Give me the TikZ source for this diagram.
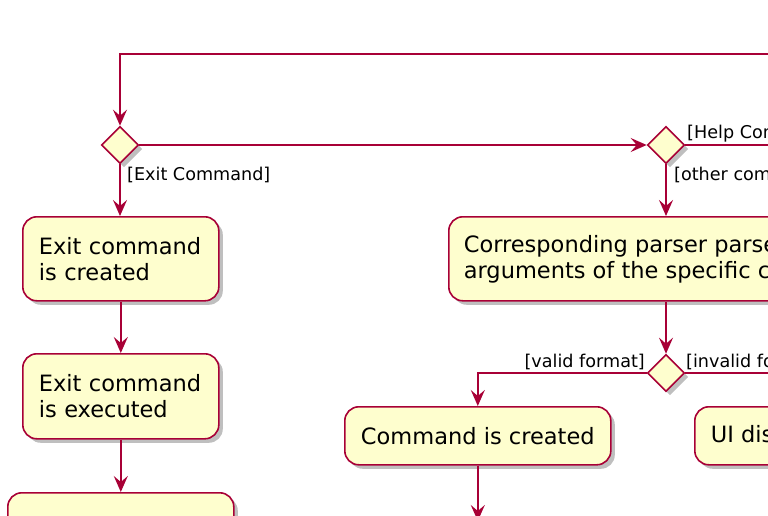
\documentclass[tikz,border=0pt]{standalone}
\usepackage{fontspec}
\setmainfont{DejaVu Sans}
\usetikzlibrary{shapes.geometric,shadows,arrows.meta}
\definecolor{pborder}{HTML}{A80036}
\definecolor{pfill}{HTML}{FEFECE}
\hyphenpenalty=10000
\exhyphenpenalty=10000
\begin{document}
\begin{tikzpicture}[x=1pt,y=-1pt,
  shad/.style={drop shadow={shadow xshift=4pt,shadow yshift=-4pt,opacity=0.25,fill=black}},
  act/.style={draw=pborder, fill=pfill, line width=1.6pt, rounded corners=14pt, shad,
    font=\fontsize{22.5}{26}\selectfont, inner xsep=16pt, inner ysep=0pt},
  dec/.style={diamond, draw=pborder, fill=pfill, line width=1.6pt, shad,
    minimum width=37pt, minimum height=37pt, inner sep=0pt},
  conn/.style={draw=pborder, line width=1.6pt},
  flow/.style={conn, -{Stealth[length=16pt,width=14pt,inset=6pt]}},
  lbl/.style={font=\fontsize{17.6}{20}\selectfont, inner sep=0pt}
]
\useasboundingbox (0,0) rectangle (768,516);
\clip (0,0) rectangle (768,516);

% decisions
\node[dec] (d1) at (120,145) {};
\node[dec] (d2) at (666,145) {};
\node[dec] (d3) at (666,373) {};

% activities
\node[act, align=left, text width=164pt, minimum height=84pt, anchor=north west] (exit1) at (22,216) {Exit command\\is created};
\node[act, align=left, text width=164pt, minimum height=85pt, anchor=north west] (exit2) at (22,353) {Exit command\\is executed};
\node[act, minimum width=226pt, minimum height=84pt, anchor=north west] (app) at (7,492) {};
\node[act, align=left, inner xsep=15pt, minimum height=84pt, anchor=north west] (parse) at (448,216) {Corresponding parser parses\\arguments of the specific command};
\node[act, minimum width=266pt, minimum height=58pt, anchor=north west] (cmd) at (344,406) {Command is created};
\node[act, minimum height=58pt, anchor=north west] (ui) at (694,406) {UI displays};

% free ends
\coordinate (topR) at (790,54);
\coordinate (topL) at (120,54);
\coordinate (helpR) at (790,145);
\coordinate (invR) at (790,373);
\coordinate (bot) at (477,521);

% connectors
\draw[flow] (topR) -- (topL) -- (d1.north);
\draw[flow] (d1.east) -- (d2.west);
\draw[conn] (d2.east) -- (helpR);
\draw[flow] (d1.south) -- (d1.south |- exit1.north);
\draw[flow] (exit1.south) -- (exit1.south |- exit2.north);
\draw[flow] (exit2.south) -- (exit2.south |- app.north);
\draw[flow] (d2.south) -- (d2.south |- parse.north);
\draw[flow] (d2 |- parse.south) -- (d3.north);
\draw[flow] (d3.west) -| (cmd.north);
\draw[conn] (d3.east) -- (invR);
\draw[flow] (cmd.south) -- (cmd.south |- bot);

% labels
\node[lbl, anchor=west] (lexit) at (127,175) {[Exit Command]};
\node[lbl, anchor=west] (lhelp) at (687,134) {[Help Command]};
\node[lbl, anchor=west] (lother) at (674,175) {[other commands]};
\node[lbl, anchor=east] (lvalid) at (645,362) {[valid format]};
\node[lbl, anchor=west] (linv) at (686,362) {[invalid format]};
\end{tikzpicture}
\end{document}
